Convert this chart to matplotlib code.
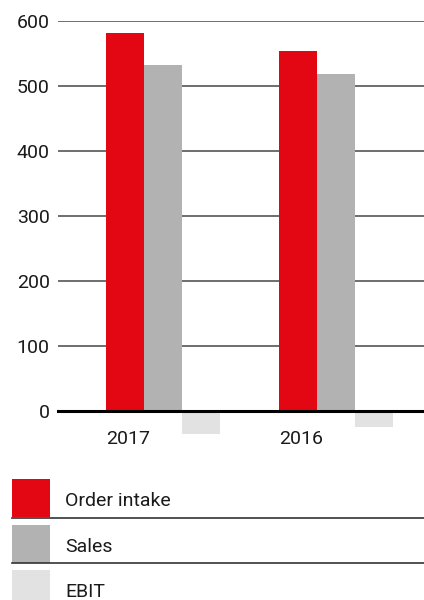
import numpy as np
import matplotlib.pyplot as plt
from matplotlib.patches import Rectangle

years = ['2017', '2016']
series = ['Order intake', 'Sales', 'EBIT']
order_intake = [582, 554]
sales = [532, 518]
ebit = [-36, -24]
colors = ['#E30613', '#B2B2B2', '#E2E2E2']
yticks = [0, 100, 200, 300, 400, 500, 600]

plt.rcParams['font.family'] = ['Roboto', 'DejaVu Sans']
plt.rcParams['font.size'] = 14

fig = plt.figure(figsize=(4.24, 6), dpi=100)

# main axes in pixel layout: 600 -> y=21, 0 -> y=411, x from 58 to 424
ppu = 0.65
ylo = -45
ax_h = (600 - ylo) * ppu
ax = fig.add_axes([58 / 424, (600 - 21 - ax_h) / 600, 366 / 424, ax_h / 600])

x = np.arange(len(years))
w = 38 / 173
for i, vals in enumerate([order_intake, sales, ebit]):
    ax.bar(x + (i - 1) * w, vals, width=w, color=colors[i], zorder=2)

ax.set_ylim(ylo, 600)
ax.set_xlim(-(163 - 58) / 173, (424 - 163) / 173)
ax.set_yticks(yticks)
ax.set_yticklabels([str(v) for v in yticks])
ax.yaxis.grid(True, color='#555555', lw=1.2, zorder=1)
ax.set_axisbelow(True)

# year labels sit under the order-intake bar, nudged a little right
ax.set_xticks(x - w + 3 / 173)
ax.set_xticklabels(years)
ax.tick_params(axis='both', length=0, colors='#1a1a1a')
ax.tick_params(axis='y', pad=6)
ax.tick_params(axis='x', pad=14)

for s in ['left', 'top', 'right']:
    ax.spines[s].set_visible(False)
ax.spines['bottom'].set_position(('data', 0))
ax.spines['bottom'].set_linewidth(2.2)
ax.spines['bottom'].set_color('black')
ax.spines['bottom'].set_zorder(3)

# legend drawn in pixel coordinates
lax = fig.add_axes([0, 0, 1, 125 / 600])
lax.set_xlim(0, 424)
lax.set_ylim(600, 475)
lax.axis('off')
for i, name in enumerate(series):
    top = 479 + i * 45.5
    lax.add_patch(Rectangle((12, top), 38, 38, color=colors[i], lw=0))
    lax.plot([12, 424], [top + 38.5, top + 38.5], color='#333333', lw=1.2)
    lax.text(65, top + 22, name, va='center', ha='left', color='#1a1a1a')

fig.savefig('out.png', dpi=100)
plt.close(fig)
